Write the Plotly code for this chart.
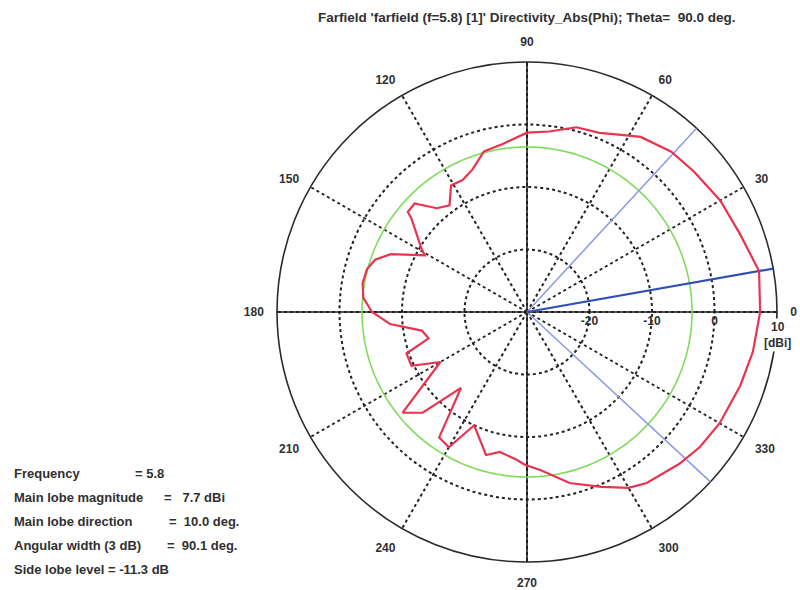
import numpy as np
import plotly.graph_objects as go

# Farfield directivity cut (Theta = 90 deg), Phi in degrees, directivity in dBi
PHI_DEG = [0, 10, 20, 30, 40, 48, 57, 62, 68, 75, 83, 90, 98, 105, 111, 116,
           121, 126, 131, 136, 140, 141, 149, 151, 157, 161, 165, 170, 175,
           180, 185, 190, 195, 199, 205, 210, 219, 224, 229, 235, 240, 245,
           254, 259, 266, 269, 275, 284, 293, 300, 305, 315, 322, 330, 341,
           350, 360]
DIRECTIVITY_DBI = [7.3, 7.7, 6.3, 5.7, 4.9, 4.5, 3.4, 2.1, 0.9, 0.6, -0.9,
                   -1.3, -2.8, -3.4, -5.6, -6.5, -6.4, -8.9, -8.0, -5.0, -5.1,
                   -6.2, -10.3, -11.3, -6.3, -4.3, -3.5, -3.3, -3.7, -5.2,
                   -8.0, -12.9, -13.7, -9.6, -9.6, -14.0, -4.4, -6.8, -13.9,
                   -5.5, -5.0, -10.0, -6.2, -7.2, -6.3, -5.6, -4.6, -1.8, 0.4,
                   2.5, 3.4, 4.4, 5.1, 5.6, 6.1, 6.7, 7.3]

# Summary values
FREQUENCY = 5.8
MAIN_LOBE_MAG = 7.7        # dBi
MAIN_LOBE_DIR = 10.0       # deg
ANGULAR_WIDTH = 90.1       # deg (3 dB)
BEAM_EDGE_LOW = -42.8      # deg, lower 3 dB point
SIDE_LOBE_LEVEL = -11.3    # dB relative to main lobe

R_MIN, R_MAX = -30, 10
RADIAL_TICKS = [-20, -10, 0]
ANGLE_TICKS = list(range(0, 360, 30))
ANGLE_LABELS = [str(a) for a in ANGLE_TICKS]

W, H = 800, 590
CX, CY, RAD = 527, 312, 250   # polar centre and radius in pixels

TEXT_COLOR = "#303030"
FONT = "Liberation Sans"

fig = go.Figure()

# solid cross axes through the centre
for a in (0, 90):
    fig.add_trace(go.Scatterpolar(
        r=[R_MAX, R_MIN, R_MAX], theta=[a, a, a + 180], mode="lines",
        line=dict(color="#1e1e1e", width=1.6), hoverinfo="skip", showlegend=False))

# side lobe level circle
circle_theta = np.linspace(0, 360, 361)
fig.add_trace(go.Scatterpolar(
    r=np.full_like(circle_theta, MAIN_LOBE_MAG + SIDE_LOBE_LEVEL),
    theta=circle_theta, mode="lines",
    line=dict(color="#7fdc5e", width=1.6), hoverinfo="skip", showlegend=False))

# 3 dB beam edges
for edge in (BEAM_EDGE_LOW, BEAM_EDGE_LOW + ANGULAR_WIDTH):
    fig.add_trace(go.Scatterpolar(
        r=[R_MIN, R_MAX], theta=[edge, edge], mode="lines",
        line=dict(color="#8f9be6", width=1.6), hoverinfo="skip", showlegend=False))

# main lobe direction
fig.add_trace(go.Scatterpolar(
    r=[R_MIN, R_MAX], theta=[MAIN_LOBE_DIR, MAIN_LOBE_DIR], mode="lines",
    line=dict(color="#2f4fb8", width=2.2), hoverinfo="skip", showlegend=False))

# directivity pattern
fig.add_trace(go.Scatterpolar(
    r=DIRECTIVITY_DBI, theta=PHI_DEG, mode="lines",
    line=dict(color="#e8344e", width=2.2), hoverinfo="skip", showlegend=False))

fig.update_layout(
    width=W, height=H,
    margin=dict(l=0, r=0, t=0, b=0),
    paper_bgcolor="white",
    showlegend=False,
    polar=dict(
        domain=dict(x=[(CX - RAD) / W, (CX + RAD) / W],
                    y=[(H - CY - RAD) / H, (H - CY + RAD) / H]),
        bgcolor="white",
        radialaxis=dict(
            range=[R_MIN, R_MAX], tickvals=RADIAL_TICKS,
            ticktext=[str(v) for v in RADIAL_TICKS],
            angle=0, side="clockwise", showline=False, ticks="",
            gridcolor="#222222", griddash="dot", gridwidth=1.6,
            layer="below traces",
            tickfont=dict(family=FONT, size=12, color=TEXT_COLOR, weight="bold")),
        angularaxis=dict(
            rotation=0, direction="counterclockwise",
            tickvals=ANGLE_TICKS, ticktext=ANGLE_LABELS,
            showline=True, linecolor="#2a2a2a", linewidth=1.6,
            gridcolor="#222222", griddash="dot", gridwidth=1.6,
            ticks="outside", ticklen=10, tickcolor="rgba(0,0,0,0)",
            layer="below traces",
            tickfont=dict(family=FONT, size=12, color=TEXT_COLOR, weight="bold")),
    ),
)

def px(x, y):
    return x / W, 1 - y / H

annotations = []
tx, ty = px(CX, 18)
annotations.append(dict(
    text="Farfield 'farfield (f=5.8) [1]' Directivity_Abs(Phi); Theta=\u00a0 90.0 deg.",
    x=tx, y=ty, xref="paper", yref="paper", showarrow=False,
    xanchor="center", yanchor="middle",
    font=dict(family=FONT, size=13.5, color=TEXT_COLOR, weight="bold")))

# outer radial tick label with unit
ux, uy = px(CX + RAD, 335)
annotations.append(dict(
    text=f"{R_MAX}<br>[dBi]", x=ux, y=uy, xref="paper", yref="paper",
    showarrow=False, xanchor="center", yanchor="middle", bgcolor="white",
    font=dict(family=FONT, size=12, color=TEXT_COLOR, weight="bold")))

# summary block
SUMMARY_SIZE = 13
summary = [
    ("Frequency", f"= {FREQUENCY}", 133),
    ("Main lobe magnitude", f"=\u00a0\u00a0 {MAIN_LOBE_MAG} dBi", 162),
    ("Main lobe direction", f"=\u00a0 {MAIN_LOBE_DIR:.1f} deg.", 167),
    ("Angular width (3 dB)", f"=\u00a0 {ANGULAR_WIDTH} deg.", 165),
    ("Side lobe level", f"= {SIDE_LOBE_LEVEL} dB", None),
]
for i, (label, value, vx) in enumerate(summary):
    yy = 473 + i * 24
    lx, ly = px(12, yy)
    if vx is None:
        annotations.append(dict(
            text=f"{label} {value}", x=lx, y=ly, xref="paper", yref="paper",
            showarrow=False, xanchor="left", yanchor="middle",
            font=dict(family=FONT, size=SUMMARY_SIZE, color=TEXT_COLOR, weight="bold")))
        continue
    annotations.append(dict(
        text=label, x=lx, y=ly, xref="paper", yref="paper",
        showarrow=False, xanchor="left", yanchor="middle",
        font=dict(family=FONT, size=SUMMARY_SIZE, color=TEXT_COLOR, weight="bold")))
    vxp, _ = px(vx, yy)
    annotations.append(dict(
        text=value, x=vxp, y=ly, xref="paper", yref="paper",
        showarrow=False, xanchor="left", yanchor="middle",
        font=dict(family=FONT, size=SUMMARY_SIZE, color=TEXT_COLOR, weight="bold")))

fig.update_layout(annotations=annotations)

fig.write_html("out.html", config={"displayModeBar": False})
